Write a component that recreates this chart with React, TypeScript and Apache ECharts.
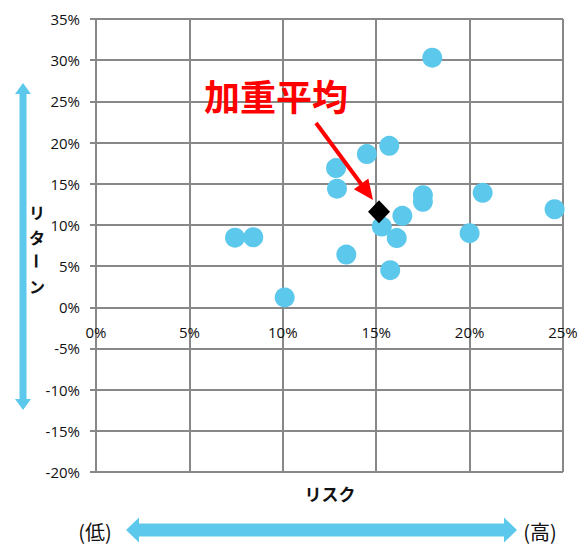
import React, { useEffect, useRef } from "react";
import * as echarts from "echarts";

// Risk (x, %) and return (y, %) of each holding
const riskPct = [18.0, 15.7, 14.5, 12.85, 12.9, 17.5, 17.5, 20.7, 24.55, 16.4, 15.3, 16.1, 20.0, 13.4, 15.75, 10.1, 7.44, 8.42];
const returnPct = [30.3, 19.6, 18.6, 16.9, 14.4, 13.6, 12.8, 13.9, 11.9, 11.1, 9.8, 8.4, 9.0, 6.4, 4.5, 1.2, 8.45, 8.5];

// Weighted average of the portfolio
const avgRisk = 15.15;
const avgReturn = 11.6;

// Axis ranges (%)
const xRange = { min: 0, max: 25, step: 5 };
const yRange = { min: -20, max: 35, step: 5 };

const BLUE = "#5CC9EC";
const GRID = "#888888";
const TEXT = "#111111";
const NUM_FONT = "'Open Sans', 'Noto Sans', sans-serif";
const JP_FONT = "'Noto Sans CJK JP', sans-serif";

const W = 581;
const H = 546;
const GRID_BOX = { left: 96, right: 18, top: 19, bottom: 74 };

export default function App() {
  const ref = useRef<HTMLDivElement>(null);

  useEffect(() => {
    if (!ref.current) return;
    const chart = echarts.init(ref.current, undefined, { renderer: "svg" });

    const points = riskPct.map((r, i) => [r, returnPct[i]]);

    // The risk axis sits on the zero-return line: shift it up from the bottom edge
    const plotH = H - GRID_BOX.top - GRID_BOX.bottom;
    const zeroOffset = -((0 - yRange.min) / (yRange.max - yRange.min)) * plotH;

    // Vertical double arrow (return axis)
    const vx = 23, vTop = 83, vBot = 410, vShaft = 7, vHeadW = 16, vHeadL = 11;
    const vArrow = [
      [vx, vTop],
      [vx + vHeadW / 2, vTop + vHeadL],
      [vx + vShaft / 2, vTop + vHeadL],
      [vx + vShaft / 2, vBot - vHeadL],
      [vx + vHeadW / 2, vBot - vHeadL],
      [vx, vBot],
      [vx - vHeadW / 2, vBot - vHeadL],
      [vx - vShaft / 2, vBot - vHeadL],
      [vx - vShaft / 2, vTop + vHeadL],
      [vx - vHeadW / 2, vTop + vHeadL],
    ];

    // Horizontal double arrow (risk axis)
    const hy = 530, hL = 126, hR = 517, hShaft = 13, hHeadW = 25, hHeadL = 13;
    const hArrow = [
      [hL, hy],
      [hL + hHeadL, hy - hHeadW / 2],
      [hL + hHeadL, hy - hShaft / 2],
      [hR - hHeadL, hy - hShaft / 2],
      [hR - hHeadL, hy - hHeadW / 2],
      [hR, hy],
      [hR - hHeadL, hy + hHeadW / 2],
      [hR - hHeadL, hy + hShaft / 2],
      [hL + hHeadL, hy + hShaft / 2],
      [hL + hHeadL, hy + hHeadW / 2],
    ];

    // Red pointer toward the weighted average
    const ax1 = 316, ay1 = 123, tipX = 373, tipY = 200;
    const dx = tipX - ax1, dy = tipY - ay1;
    const len = Math.hypot(dx, dy);
    const ux = dx / len, uy = dy / len;
    const headL = 20, headHalf = 9;
    const bx = tipX - ux * headL, by = tipY - uy * headL;
    const redHead = [
      [tipX, tipY],
      [bx - uy * headHalf, by + ux * headHalf],
      [bx + uy * headHalf, by - ux * headHalf],
    ];

    const vLabel = ["リ", "タ", "ー", "ン"];

    chart.setOption({
      animation: false,
      backgroundColor: "#ffffff",
      grid: { ...GRID_BOX, containLabel: false },
      xAxis: {
        type: "value",
        position: "bottom",
        offset: zeroOffset,
        min: xRange.min,
        max: xRange.max,
        interval: xRange.step,
        axisLine: { show: true, onZero: false, lineStyle: { color: GRID, width: 2 } },
        axisTick: { show: false },
        axisLabel: {
          formatter: "{value}%",
          color: TEXT,
          fontSize: 15,
          fontFamily: NUM_FONT,
          margin: 17,
          showMaxLabel: true,
          showMinLabel: true,
        },
        splitLine: { show: true, lineStyle: { color: GRID, width: 2 } },
      },
      yAxis: {
        type: "value",
        min: yRange.min,
        max: yRange.max,
        interval: yRange.step,
        axisLine: { show: true, onZero: false, lineStyle: { color: GRID, width: 2 } },
        axisTick: { show: true, length: 6, lineStyle: { color: GRID, width: 2 } },
        axisLabel: {
          formatter: "{value}%",
          color: TEXT,
          fontSize: 15,
          fontFamily: NUM_FONT,
          margin: 16,
        },
        splitLine: { show: true, lineStyle: { color: GRID, width: 2 } },
      },
      series: [
        {
          type: "scatter",
          data: points,
          symbol: "circle",
          symbolSize: 20,
          itemStyle: { color: BLUE, opacity: 1 },
          z: 3,
        },
        {
          type: "scatter",
          data: [[avgRisk, avgReturn]],
          symbol: "diamond",
          symbolSize: [22, 23],
          itemStyle: { color: "#000000", opacity: 1 },
          z: 4,
        },
      ],
      graphic: [
        {
          type: "polygon",
          shape: { points: vArrow },
          style: { fill: BLUE },
          z: 10,
        },
        {
          type: "polygon",
          shape: { points: hArrow },
          style: { fill: BLUE },
          z: 10,
        },
        ...vLabel.map((ch, i) => ({
          type: "text",
          x: 37,
          y: 212 + i * 24.5,
          rotation: ch === "ー" ? -Math.PI / 2 : 0,
          style: {
            text: ch,
            fill: TEXT,
            font: `bold 16px ${JP_FONT}`,
            align: "center",
            verticalAlign: "middle",
          },
          z: 10,
        })),
        {
          type: "text",
          x: 330,
          y: 493,
          style: {
            text: "リスク",
            fill: TEXT,
            font: `bold 17px ${JP_FONT}`,
            align: "center",
            verticalAlign: "middle",
          },
          z: 10,
        },
        {
          type: "text",
          x: 95,
          y: 531,
          style: {
            text: "(低)",
            fill: TEXT,
            font: `20px ${JP_FONT}`,
            align: "center",
            verticalAlign: "middle",
          },
          z: 10,
        },
        {
          type: "text",
          x: 540,
          y: 531,
          style: {
            text: "(高)",
            fill: TEXT,
            font: `20px ${JP_FONT}`,
            align: "center",
            verticalAlign: "middle",
          },
          z: 10,
        },
        {
          type: "text",
          x: 276,
          y: 95,
          style: {
            text: "加重平均",
            fill: "#FF0000",
            font: `bold 36px ${JP_FONT}`,
            align: "center",
            verticalAlign: "middle",
          },
          z: 10,
        },
        {
          type: "line",
          shape: { x1: ax1, y1: ay1, x2: bx + ux * 2, y2: by + uy * 2 },
          style: { stroke: "#FF0000", lineWidth: 4 },
          z: 10,
        },
        {
          type: "polygon",
          shape: { points: redHead },
          style: { fill: "#FF0000" },
          z: 10,
        },
      ],
    });

    return () => chart.dispose();
  }, []);

  return (
    <div
      ref={ref}
      style={{ position: "absolute", left: 0, top: 0, width: W, height: H }}
    />
  );
}
